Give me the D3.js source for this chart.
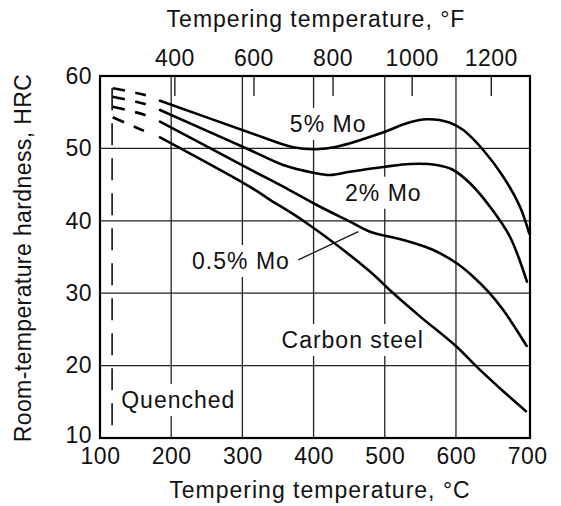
<!DOCTYPE html>
<html>
<head>
<meta charset="utf-8">
<script src="https://cdn.jsdelivr.net/npm/d3@7"></script>
<style>
  html, body { margin: 0; padding: 0; background: #fff; }
  svg { display: block; }
  text { font-family: "Liberation Sans", Arial, Helvetica, sans-serif; fill: #111; }
</style>
</head>
<body>
<svg id="chart" width="561" height="506"></svg>
<script>
// ---- data (temperatures in °C, hardness in HRC) ----
const celsiusTicks = [100, 200, 300, 400, 500, 600, 700];
const fahrenheitTicks = [400, 600, 800, 1000, 1200];
const hrcTicks = [10, 20, 30, 40, 50, 60];
const gridC = [200, 300, 400, 500, 600];
const gridHRC = [20, 30, 40, 50];
const quenchTemp = 117;

const mo5Dashed = [[117.8, 58.3], [163.2, 57.38], [184.3, 56.59]];
const mo2Dashed = [[117.8, 57.14], [163.2, 56.13], [184.3, 55.3]];
const mo05Dashed = [[117.8, 55.76], [163.2, 54.61], [184.3, 53.69]];
const carbonDashed = [[117.8, 54.3], [163.2, 52.36], [184.3, 51.53]];

const mo5 = [[184.3, 56.59], [310.7, 52.17], [371.5, 50.15], [404.4, 49.88], [432.4, 50.23],
  [500.3, 52.3], [530.8, 53.47], [558.9, 54.02], [591.6, 53.55], [610.3, 52.54],
  [638.3, 49.78], [666.4, 46.09], [689.9, 41.95], [702.9, 38.27]];
const mo2 = [[184.3, 55.3], [310.7, 49.78], [357.4, 47.7], [399.6, 46.64], [423, 46.33],
  [451.1, 46.78], [500.3, 47.47], [535.4, 47.85], [572.9, 47.71], [596.2, 47.02],
  [619.7, 45.18], [647.8, 41.95], [675.8, 37.8], [699.7, 31.59]];
const mo05 = [[184.3, 53.69], [310.7, 47.11], [357.4, 44.71], [404.4, 42.18], [451.1, 39.88],
  [479.2, 38.5], [526, 37.35], [568.1, 35.97], [601, 34.13], [624.3, 32.28],
  [645.4, 30.21], [666.4, 27.68], [685.2, 24.92], [699.3, 22.71]];
const carbon = [[184.3, 51.53], [310.7, 44.7], [338.8, 42.9], [385.5, 40.0], [479.2, 33.0],
  [507.3, 30.4], [549.4, 26.8], [601, 22.6], [629, 19.85], [666.4, 16.45], [698.3, 13.7]];

const seriesLabels = [
  { text: "5% Mo", t: 420.5, h: 52.27 },
  { text: "2% Mo", t: 498, h: 42.78 },
  { text: "0.5% Mo", t: 298, h: 33.34 },
  { text: "Carbon steel", t: 455, h: 22.43 },
  { text: "Quenched", t: 210, h: 14.14 }
];
const pointer = [[378.5, 34.6], [462.8, 38.5]];

// ---- scales ----
const svg = d3.select("#chart");
const x = d3.scaleLinear().domain([100, 704]).range([100, 530]);
const y = d3.scaleLinear().domain([10, 60]).range([438, 76]);
const xFs = d3.scaleLinear().domain([100 * 9 / 5 + 32, 704 * 9 / 5 + 32]).range([100, 530]);

const FS = 23;

// grid
const grid = svg.append("g").attr("stroke", "#222").attr("stroke-width", 1.3);
grid.selectAll("line.v").data(gridC).join("line")
  .attr("x1", d => x(d)).attr("x2", d => x(d))
  .attr("y1", y(60)).attr("y2", y(10));
grid.selectAll("line.h").data(gridHRC).join("line")
  .attr("x1", x(100)).attr("x2", x(704))
  .attr("y1", d => y(d)).attr("y2", d => y(d));

// quench dashed line
svg.append("line")
  .attr("x1", x(quenchTemp)).attr("x2", x(quenchTemp))
  .attr("y1", y(58.3)).attr("y2", y(10))
  .attr("stroke", "#111").attr("stroke-width", 1.6)
  .attr("stroke-dasharray", "22,13");

// label backgrounds + labels
const labG = svg.append("g");
seriesLabels.forEach(l => {
  const t = labG.append("text")
    .attr("x", x(l.t)).attr("y", y(l.h))
    .attr("text-anchor", "middle")
    .attr("font-size", FS).attr("letter-spacing", 1)
    .text(l.text);
  const b = t.node().getBBox();
  labG.insert("rect", "text")
    .attr("x", b.x - 4).attr("y", b.y - 3)
    .attr("width", b.width + 6).attr("height", b.height + 6)
    .attr("fill", "#fff");
});

// pointer line
svg.append("line")
  .attr("x1", x(pointer[0][0])).attr("y1", y(pointer[0][1]))
  .attr("x2", x(pointer[1][0])).attr("y2", y(pointer[1][1]))
  .attr("stroke", "#111").attr("stroke-width", 1.3);

// curves
const line = d3.line().x(d => x(d[0])).y(d => y(d[1])).curve(d3.curveCatmullRom.alpha(0.5));
const curves = svg.append("g").attr("fill", "none").attr("stroke", "#000");
[mo5, mo2, mo05, carbon].forEach(s => {
  curves.append("path").attr("d", line(s)).attr("stroke-width", 2.6)
    .attr("stroke-linejoin", "round").attr("stroke-linecap", "round");
});
[mo5Dashed, mo2Dashed, mo05Dashed, carbonDashed].forEach(s => {
  curves.append("path").attr("d", line(s)).attr("stroke-width", 2.6)
    .attr("stroke-dasharray", "12.5,10.5,11,40");
});

// frame
svg.append("rect")
  .attr("x", x(100)).attr("y", y(60))
  .attr("width", x(704) - x(100)).attr("height", y(10) - y(60))
  .attr("fill", "none").attr("stroke", "#000").attr("stroke-width", 2.2);

// bottom axis (°C)
const axB = svg.append("g").attr("transform", `translate(0,${y(10)})`)
  .call(d3.axisBottom(x).tickValues(celsiusTicks).tickFormat(d3.format("d")).tickSize(0).tickPadding(10));
axB.select(".domain").remove();
axB.selectAll("text").attr("font-size", FS).attr("font-family", null).attr("letter-spacing", 0.5);

// top axis (°F) with inward ticks
const axT = svg.append("g").attr("transform", `translate(0,${y(60)})`)
  .call(d3.axisTop(xFs).tickValues(fahrenheitTicks).tickFormat(d3.format("d")).tickSizeInner(-20).tickSizeOuter(0).tickPadding(10));
axT.select(".domain").remove();
axT.selectAll("line").attr("stroke", "#111").attr("stroke-width", 1.3);
axT.selectAll("text").attr("font-size", FS).attr("font-family", null).attr("letter-spacing", 0.5).attr("y", -10);

// left axis (HRC)
const axL = svg.append("g").attr("transform", `translate(${x(100)},0)`)
  .call(d3.axisLeft(y).tickValues(hrcTicks).tickFormat(d3.format("d")).tickSize(0).tickPadding(8));
axL.select(".domain").remove();
axL.selectAll("text").attr("font-size", FS).attr("font-family", null).attr("letter-spacing", 0.5)
  .attr("dy", d => d === 10 ? "0.18em" : "0.32em");

// titles
svg.append("text").attr("x", 316).attr("y", 27).attr("text-anchor", "middle")
  .attr("font-size", FS).attr("letter-spacing", 1).text("Tempering temperature, °F");
svg.append("text").attr("x", 320).attr("y", 498).attr("text-anchor", "middle")
  .attr("font-size", FS).attr("letter-spacing", 1).text("Tempering temperature, °C");
svg.append("text").attr("transform", `translate(31,${258}) rotate(-90)`).attr("text-anchor", "middle")
  .attr("font-size", FS).attr("letter-spacing", 0.4).text("Room-temperature hardness, HRC");
</script>
</body>
</html>
